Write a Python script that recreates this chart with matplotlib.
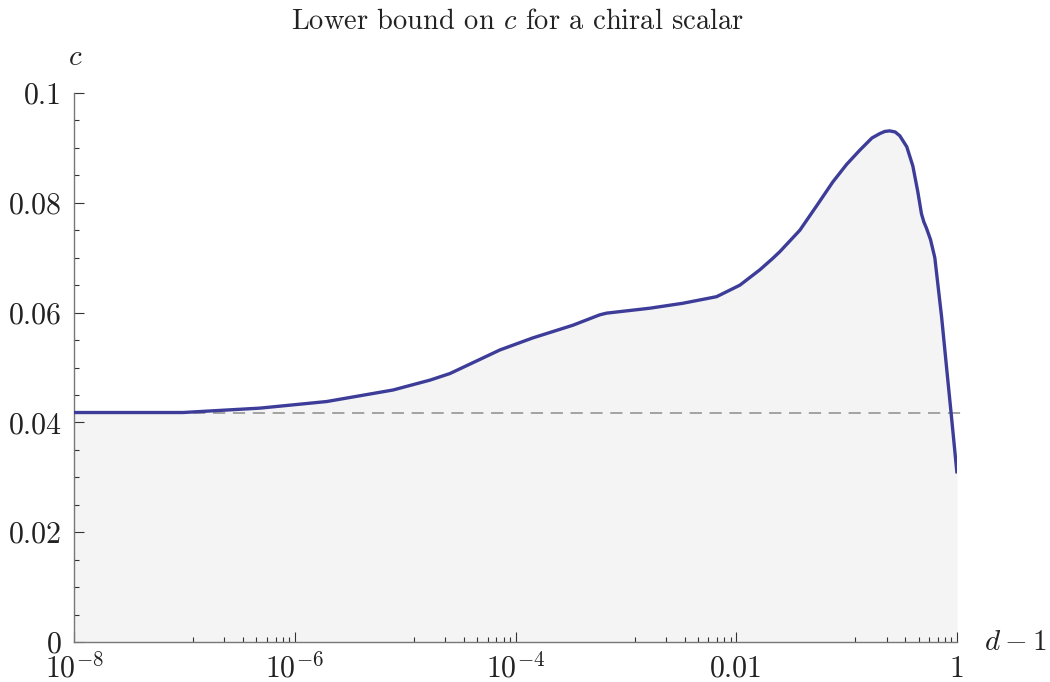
import numpy as np
import matplotlib
matplotlib.use("Agg")
import matplotlib.pyplot as plt
from matplotlib.ticker import FixedLocator, NullFormatter

plt.rcParams["font.family"] = "serif"
plt.rcParams["font.serif"] = ["cmr10"]
plt.rcParams["mathtext.fontset"] = "cm"
plt.rcParams["axes.unicode_minus"] = False

# curve: log10(d-1) and the bound on c
log_d = [-8.0, -7.013, -6.315, -5.711, -5.110, -4.775, -4.594, -4.141, -3.842,
         -3.480, -3.236, -3.175, -2.783, -2.484, -2.178, -1.967, -1.786, -1.668,
         -1.605, -1.424, -1.270, -1.125, -1.000, -0.880, -0.771, -0.700, -0.654,
         -0.610, -0.560, -0.518, -0.455, -0.400, -0.355, -0.322, -0.300, -0.277,
         -0.240, -0.201, -0.140, -0.095, -0.050, 0.0]
c_bound = [0.0418, 0.0418, 0.0426, 0.0438, 0.0459, 0.0477, 0.0489, 0.0532, 0.0554,
           0.0577, 0.0596, 0.0599, 0.0608, 0.0617, 0.0629, 0.0650, 0.0678, 0.0699,
           0.0711, 0.0750, 0.0795, 0.0838, 0.0870, 0.0896, 0.0918, 0.0926, 0.0930,
           0.0931, 0.0929, 0.0922, 0.0902, 0.0867, 0.0820, 0.0780, 0.0765, 0.0754,
           0.0733, 0.0700, 0.0593, 0.0501, 0.0410, 0.0307]
free_value = 1 / 24

x_ticks = [1e-8, 1e-6, 1e-4, 1e-2, 1.0]
x_labels = [r"$10^{-8}$", r"$10^{-6}$", r"$10^{-4}$", "0.01", "1"]
y_ticks = [0, 0.02, 0.04, 0.06, 0.08, 0.1]
y_labels = ["0", "0.02", "0.04", "0.06", "0.08", "0.1"]

x = 10.0 ** np.array(log_d)
c = np.array(c_bound)

fig = plt.figure(figsize=(10.5, 6.82), dpi=100)
ax = fig.add_axes([74 / 1050, 1 - 642 / 682, (957 - 74) / 1050, (642 - 93) / 682])

ax.fill_between(x, 0, c, color="#f4f4f4", lw=0, zorder=1)
ax.plot([1e-8, 1.12], [free_value, free_value], color="#8c8c8c", lw=1.1,
        dashes=(8, 5), zorder=2, clip_on=False)
ax.plot(x, c, color="#3d3d99", lw=2.4, solid_joinstyle="round",
        solid_capstyle="butt", zorder=3)

ax.set_xscale("log")
ax.set_xlim(1e-8, 1)
ax.set_ylim(0, 0.1)

# Mathematica style minor ticks: linear subdivisions of each major interval
minor = []
for a, b in zip(x_ticks[:-1], x_ticks[1:]):
    minor += [a + k * (b - a) / 9 for k in range(1, 9)]
ax.xaxis.set_major_locator(FixedLocator(x_ticks))
ax.xaxis.set_minor_locator(FixedLocator(minor))
ax.xaxis.set_minor_formatter(NullFormatter())
ax.set_xticklabels(x_labels)
ax.yaxis.set_major_locator(FixedLocator(y_ticks))
ax.yaxis.set_minor_locator(FixedLocator(np.arange(0.005, 0.1, 0.005)))
ax.yaxis.set_minor_formatter(NullFormatter())
ax.set_yticklabels(y_labels)

for s in ["top", "right"]:
    ax.spines[s].set_visible(False)
for s in ["left", "bottom"]:
    ax.spines[s].set_color("#777777")
    ax.spines[s].set_linewidth(1.0)

ax.tick_params(which="both", direction="in", color="#333333", width=0.8,
               labelsize=21.5, labelcolor="#222222")
ax.tick_params(which="major", length=7)
ax.tick_params(which="minor", length=3.5)
ax.tick_params(axis="x", which="major", pad=25)
ax.tick_params(axis="y", which="major", pad=9)
for lab in ax.get_xticklabels():
    lab.set_va("baseline")

fig.text(0.493, 1 - 22 / 682, r"Lower bound on $c$ for a chiral scalar",
         ha="center", va="center", fontsize=20.5, color="#222222")
fig.text(75 / 1050, 1 - 58 / 682, r"$c$", ha="center", va="center",
         fontsize=21, color="#222222")
fig.text(1015 / 1050, 1 - 643 / 682, r"$d-1$", ha="center", va="center",
         fontsize=21, color="#222222")

fig.savefig("out.png", dpi=100)
